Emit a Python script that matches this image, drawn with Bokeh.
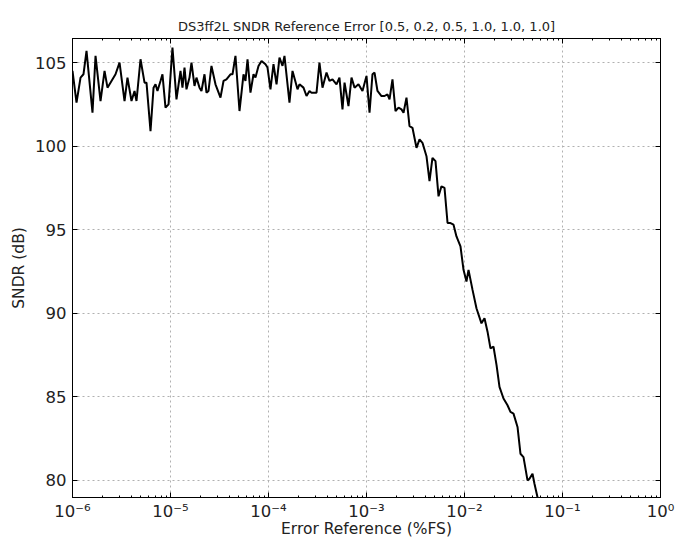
import numpy as np
from bokeh.plotting import figure
from bokeh.models import (LogAxis, LinearAxis, SingleIntervalTicker, LogTicker,
                          CustomJSTickFormatter, Range1d, ColumnDataSource)
from bokeh.embed import file_html
from bokeh.resources import INLINE

# log10 of the error reference (%FS)
log10_err = [
    -6.000, -5.959, -5.918, -5.888, -5.857, -5.796, -5.765, -5.714, -5.673, -5.643,
    -5.602, -5.561, -5.520, -5.469, -5.439, -5.398, -5.367, -5.347, -5.306, -5.265,
    -5.245, -5.204, -5.173, -5.153, -5.133, -5.102, -5.082, -5.051, -5.020, -4.980,
    -4.939, -4.898, -4.878, -4.857, -4.837, -4.806, -4.786, -4.755, -4.735, -4.704,
    -4.684, -4.653, -4.633, -4.612, -4.582, -4.541, -4.490, -4.459, -4.429, -4.388,
    -4.367, -4.337, -4.296, -4.255, -4.235, -4.214, -4.184, -4.153, -4.133, -4.102,
    -4.071, -4.031, -4.010, -3.980, -3.949, -3.918, -3.888, -3.857, -3.837, -3.786,
    -3.755, -3.704, -3.684, -3.643, -3.612, -3.582, -3.561, -3.510, -3.480, -3.449,
    -3.408, -3.378, -3.347, -3.306, -3.276, -3.245, -3.224, -3.184, -3.153, -3.122,
    -3.082, -3.041, -3.000, -2.969, -2.939, -2.918, -2.888, -2.847, -2.816, -2.786,
    -2.765, -2.735, -2.704, -2.673, -2.643, -2.622, -2.592, -2.561, -2.531, -2.490,
    -2.459, -2.429, -2.388, -2.357, -2.327, -2.296, -2.265, -2.235, -2.204, -2.173,
    -2.143, -2.112, -2.082, -2.041, -2.010, -1.980, -1.959, -1.918, -1.878, -1.827,
    -1.796, -1.765, -1.735, -1.704, -1.673, -1.643, -1.602, -1.561, -1.531, -1.500,
    -1.459, -1.429, -1.398, -1.357, -1.337, -1.306, -1.286, -1.255, -1.224,
]

# SNDR values (dB)
sndr_db = [
    104.5, 102.6, 104.1, 104.3, 105.7, 102.0, 105.4, 102.7, 104.5, 103.5,
    103.9, 104.3, 105.0, 102.7, 104.1, 102.7, 103.3, 102.7, 105.2, 103.8,
    103.8, 100.9, 103.5, 103.7, 103.3, 103.9, 104.3, 102.3, 102.5, 105.9,
    102.8, 104.5, 103.5, 104.7, 103.4, 104.1, 105.0, 103.6, 104.1, 103.5,
    103.3, 104.3, 103.2, 103.3, 104.8, 103.7, 102.9, 103.9, 104.0, 104.3,
    104.3, 105.4, 102.1, 104.3, 103.9, 105.2, 103.2, 104.3, 104.1, 104.8,
    105.1, 104.9, 104.7, 103.4, 104.9, 103.7, 105.3, 104.8, 105.4, 102.6,
    104.5, 103.4, 103.7, 103.5, 103.0, 103.3, 103.2, 103.2, 105.0, 103.5,
    104.4, 103.9, 104.0, 103.7, 104.1, 102.2, 103.8, 102.4, 104.1, 103.5,
    103.7, 103.3, 104.2, 102.0, 104.3, 104.4, 103.3, 103.0, 103.0, 103.1,
    102.8, 104.0, 102.1, 102.3, 102.2, 102.0, 102.9, 101.2, 101.1, 99.9,
    100.4, 100.2, 99.4, 97.9, 99.3, 99.1, 97.0, 97.6, 97.5, 95.4,
    95.4, 95.3, 94.6, 94.0, 92.6, 91.9, 92.6, 91.4, 90.3, 89.4,
    89.7, 88.9, 87.9, 88.0, 86.9, 85.6, 84.9, 84.5, 84.1, 84.0,
    83.2, 81.6, 81.4, 80.0, 80.1, 80.4, 79.8, 79.0, 78.0,
]

x_vals = [10.0 ** e for e in log10_err]

FONT = "DejaVu Sans"

p = figure(width=682, height=554, x_axis_type="log",
           x_range=Range1d(1e-6, 1.0), y_range=Range1d(78.98, 106.44),
           output_backend="svg", toolbar_location=None,
           title="DS3ff2L SNDR Reference Error [0.5, 0.2, 0.5, 1.0, 1.0, 1.0]")
p.min_border_left = 72
p.min_border_right = 22
p.min_border_top = 38
p.min_border_bottom = 57
p.background_fill_color = "white"
p.border_fill_color = "white"
p.outline_line_color = "black"
p.outline_line_width = 1

p.title.align = "center"
p.title.text_font = FONT
p.title.text_font_size = "13px"
p.title.text_font_style = "normal"
p.title.text_color = "#222222"

src = ColumnDataSource(data=dict(x=x_vals, y=sndr_db))
p.line("x", "y", source=src, line_color="black", line_width=2)

sup_code = """
const m = {'-':'\u207b','0':'\u2070','1':'\u00b9','2':'\u00b2','3':'\u00b3','4':'\u2074',
           '5':'\u2075','6':'\u2076','7':'\u2077','8':'\u2078','9':'\u2079'};
const e = Math.round(Math.log10(tick));
return '10' + String(e).split('').map(c => m[c]).join('');
"""

xa = p.xaxis[0]
xa.ticker = LogTicker(num_minor_ticks=10)
xa.formatter = CustomJSTickFormatter(code=sup_code)
xa.axis_label = "Error Reference (%FS)"
ya = p.yaxis[0]
ya.ticker = SingleIntervalTicker(interval=5)
ya.axis_label = "SNDR (dB)"

for ax in (xa, ya):
    ax.axis_label_text_font = FONT
    ax.axis_label_text_font_size = "15.5px"
    ax.axis_label_text_font_style = "normal"
    ax.axis_label_text_color = "#222222"
    ax.major_label_text_font = FONT
    ax.major_label_text_font_size = "16.5px"
    ax.major_label_text_color = "#222222"
    ax.major_tick_in = 5
    ax.major_tick_out = 0
    ax.minor_tick_in = 2
    ax.minor_tick_out = 0
    ax.axis_line_color = "black"
    ax.major_tick_line_color = "black"
    ax.minor_tick_line_color = "black"
ya.minor_tick_line_color = None
xa.major_label_standoff = 4
ya.major_label_standoff = 6
xa.axis_label_standoff = -4
ya.axis_label_standoff = 4

top = LogAxis(ticker=LogTicker(num_minor_ticks=10),
              formatter=CustomJSTickFormatter(code="return '';"))
right = LinearAxis(ticker=SingleIntervalTicker(interval=5),
                   formatter=CustomJSTickFormatter(code="return '';"))
for ax in (top, right):
    ax.major_tick_in = 5
    ax.major_tick_out = 0
    ax.minor_tick_in = 2
    ax.minor_tick_out = 0
    ax.major_label_text_font_size = "0px"
    ax.major_label_standoff = 0
    ax.axis_line_color = "black"
right.minor_tick_line_color = None
p.add_layout(top, "above")
p.add_layout(right, "right")

p.xgrid.grid_line_color = "#b0b0b0"
p.xgrid.grid_line_dash = "2 3"
p.ygrid.grid_line_color = "#b0b0b0"
p.ygrid.grid_line_dash = "2 3"
p.xgrid.ticker = xa.ticker
p.ygrid.ticker = ya.ticker

open("out.html", "w").write(file_html(p, INLINE))
